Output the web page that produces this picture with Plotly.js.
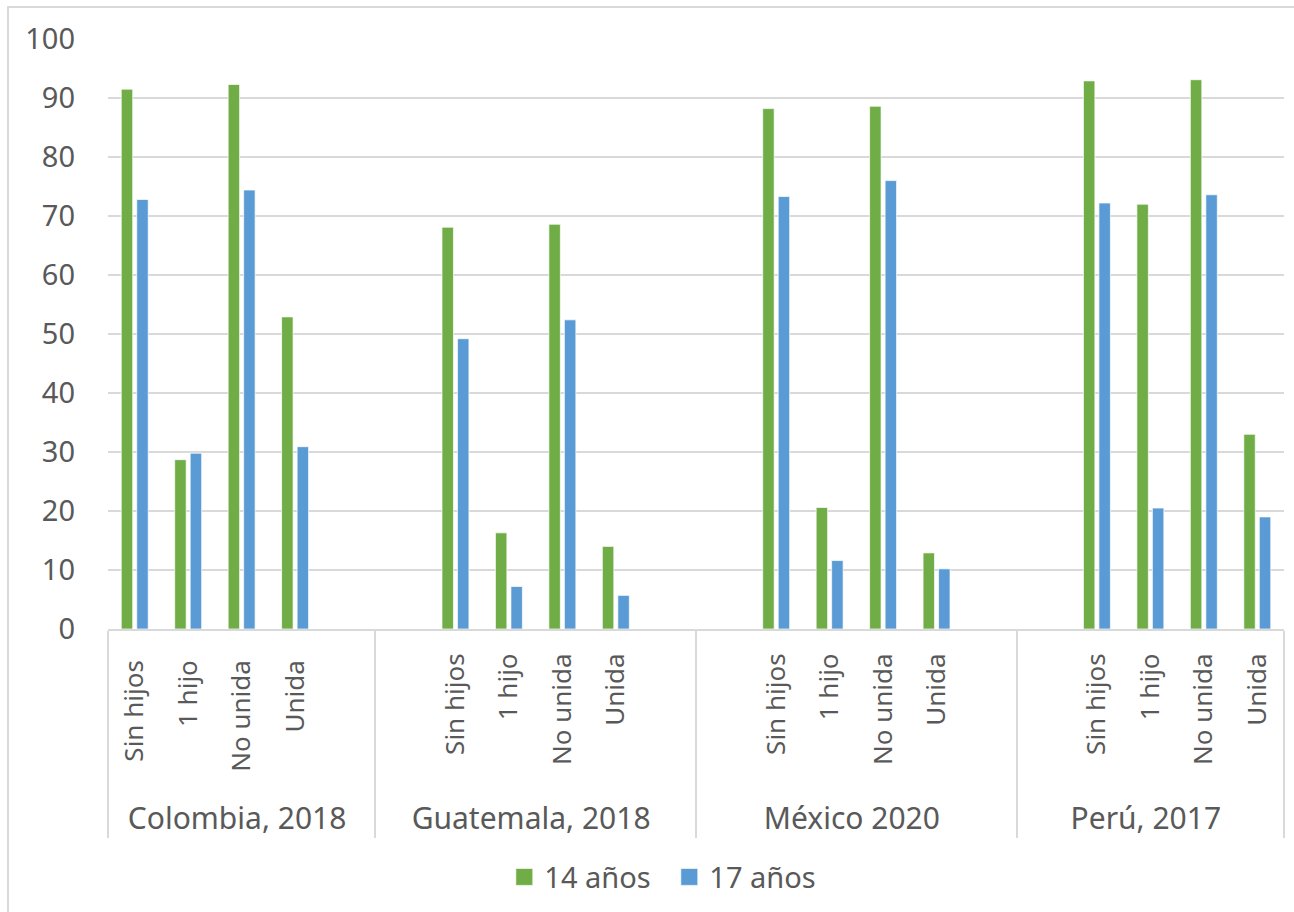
<!DOCTYPE html>
<html>
<head>
<meta charset="utf-8">
<script src="https://cdn.plot.ly/plotly-3.0.1.min.js"></script>
<style>
  html, body { margin: 0; padding: 0; background: #fff; }
  #wrap { position: relative; width: 1294px; height: 912px; overflow: hidden; }
  #chart { position: absolute; left: 0; top: 0; width: 1294px; height: 912px; }
  #frame { position: absolute; left: 7px; top: 6px; width: 1310px; height: 930px; border: 2px solid #d9d9d9; pointer-events: none; }
</style>
</head>
<body>
<div id="wrap">
  <div id="chart"></div>
  <div id="frame"></div>
</div>
<script>
// Outer groups (country, year) and inner categories; blank slots keep Excel's spacing.
// Colombia's labels carry a trailing space so Plotly's first-appearance ordering
// puts the leading blank slot before "Sin hijos" in the other groups.
const groups = [
  "Colombia, 2018","Colombia, 2018","Colombia, 2018","Colombia, 2018","Colombia, 2018",
  "Guatemala, 2018","Guatemala, 2018","Guatemala, 2018","Guatemala, 2018","Guatemala, 2018","Guatemala, 2018",
  "México 2020","México 2020","México 2020","México 2020","México 2020","México 2020",
  "Perú, 2017","Perú, 2017","Perú, 2017","Perú, 2017","Perú, 2017"
];
const categories = [
  "Sin hijos ","1 hijo ","No unida ","Unida ","   ",
  " ","Sin hijos","1 hijo","No unida","Unida","  ",
  " ","Sin hijos","1 hijo","No unida","Unida","  ",
  " ","Sin hijos","1 hijo","No unida","Unida"
];
const seriesNames = ["14 años", "17 años"];
const values14 = [
  91.5, 28.7, 92.3, 52.9, null,
  null, 68.1, 16.3, 68.6, 14.0, null,
  null, 88.2, 20.6, 88.6, 12.9, null,
  null, 92.9, 72.0, 93.1, 33.0
];
const values17 = [
  72.8, 29.8, 74.4, 30.9, null,
  null, 49.2, 7.2, 52.4, 5.7, null,
  null, 73.3, 11.6, 76.0, 10.2, null,
  null, 72.2, 20.5, 73.6, 19.0
];

const FONT = "'Noto Sans', 'Open Sans', sans-serif";
const GREY = "#595959";
// invisible lead-in: deepens the inner label row like Excel's spacing
const PAD = "\u00A0\u00A0\u00A0";

const traces = [
  { type: "bar", name: seriesNames[0], x: [groups, categories.map(c => PAD + c)], y: values14,
    marker: { color: "#70AD47", line: { color: "rgba(255,255,255,0.7)", width: 1 } } },
  { type: "bar", name: seriesNames[1], x: [groups, categories.map(c => PAD + c)], y: values17,
    marker: { color: "#5B9BD5", line: { color: "rgba(255,255,255,0.7)", width: 1 } } }
];

const layout = {
  width: 1294, height: 912,
  margin: { l: 108, r: 10, t: 38.5, b: 282 },
  paper_bgcolor: "#ffffff", plot_bgcolor: "#ffffff",
  font: { family: FONT, color: GREY, size: 29 },
  barmode: "group", bargap: 0.42, bargroupgap: 0.26,
  showlegend: true,
  legend: { orientation: "h", x: 0.337, xanchor: "left", y: -0.418, yanchor: "middle",
            font: { family: FONT, size: 29, color: GREY }, traceorder: "normal",
            entrywidth: 120, entrywidthmode: "pixels" },
  xaxis: {
    type: "multicategory", range: [-0.5, 21.5],
    tickangle: -90, tickfont: { family: FONT, size: 26, color: GREY },
    showline: true, linecolor: "#d9d9d9", linewidth: 2,
    showgrid: false, ticks: "",
    showdividers: true, dividercolor: "#d9d9d9", dividerwidth: 2,
    ticklabelstandoff: 12
  },
  yaxis: {
    range: [0, 100], tickvals: [0,10,20,30,40,50,60,70,80,90,100],
    showgrid: true, gridcolor: "#d9d9d9", gridwidth: 2,
    zeroline: false, showline: false, ticks: "",
    tickfont: { family: FONT, size: 29, color: GREY },
    ticklabelstandoff: 32
  }
};

Plotly.newPlot("chart", traces, layout, { displayModeBar: false, staticPlot: true }).then(gd => {
  // larger group labels, as in the original
  gd.querySelectorAll(".xtick2 text").forEach(t => { t.style.fontSize = "30px"; });
  // larger square legend keys
  gd.querySelectorAll(".legendpoints path").forEach(p => {
    p.setAttribute("d", "M8.5,8.5H-8.5V-8.5H8.5Z");
  });
});
</script>
</body>
</html>
